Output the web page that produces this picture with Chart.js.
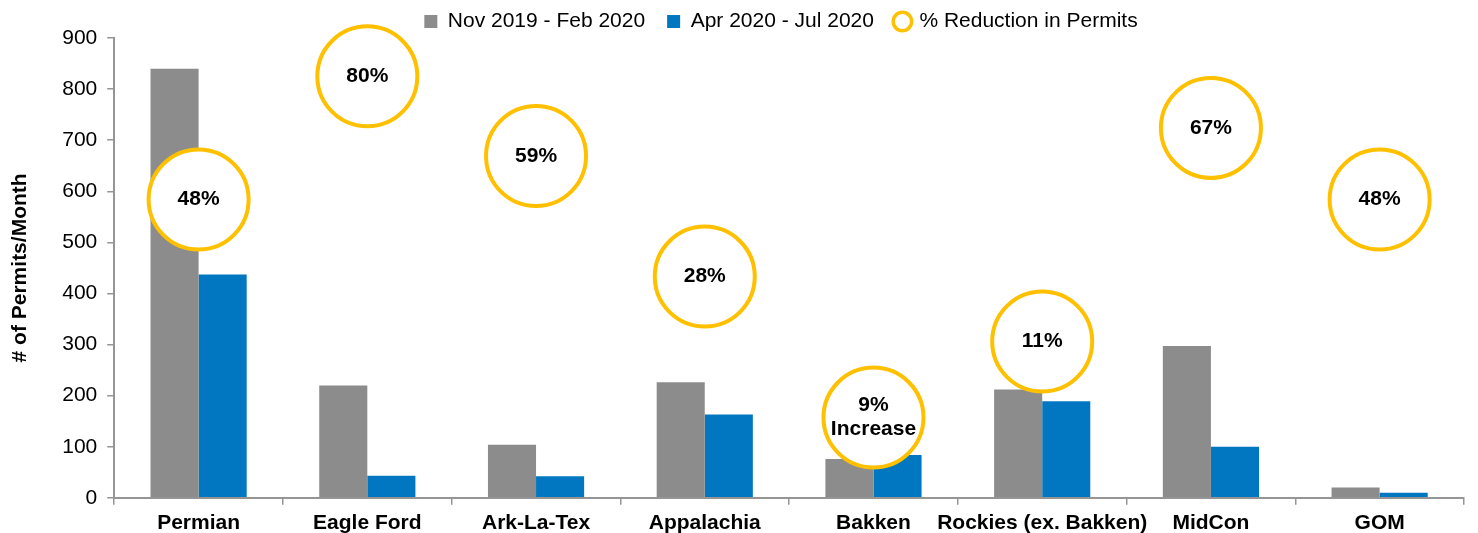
<!DOCTYPE html>
<html>
<head>
<meta charset="utf-8">
<script src="https://cdn.jsdelivr.net/npm/chart.js@4/dist/chart.umd.min.js"></script>
<style>
  html, body { margin: 0; padding: 0; background: #fff; overflow: hidden; }
  #wrap { width: 1478px; height: 533px; }
</style>
</head>
<body>
<div id="wrap"><canvas id="c" width="1478" height="533"></canvas></div>
<script>
const categories = ["Permian", "Eagle Ford", "Ark-La-Tex", "Appalachia", "Bakken", "Rockies (ex. Bakken)", "MidCon", "GOM"];
const preCovid = [840, 220, 104, 226, 76, 212, 297, 20];
const postCovid = [437, 43, 42, 163, 84, 189, 100, 10];
const bubbleY = [584, 825, 669, 433, 157, 306, 724, 584];
const bubbleLabels = [["48%"], ["80%"], ["59%"], ["28%"], ["9%", "Increase"], ["11%"], ["67%"], ["48%"]];
const seriesNames = ["Nov 2019 - Feb 2020", "Apr 2020 - Jul 2020", "% Reduction in Permits"];
const yTicks = { min: 0, max: 900, step: 100 };

const FONT = "'Liberation Sans', Arial, sans-serif";
const AXIS_GREY = "#959595";

const bubbleText = {
  id: "bubbleText",
  afterDatasetsDraw(chart) {
    const meta = chart.getDatasetMeta(2);
    const ctx = chart.ctx;
    ctx.save();
    ctx.font = "bold 21px " + FONT;
    ctx.fillStyle = "#000";
    ctx.textAlign = "center";
    ctx.textBaseline = "middle";
    meta.data.forEach((pt, i) => {
      const lines = bubbleLabels[i];
      const lh = 24;
      const start = pt.y - (lines.length - 1) * lh / 2;
      lines.forEach((t, j) => ctx.fillText(t, pt.x, start + j * lh));
    });
    ctx.restore();
  }
};

const legendTweak = {
  id: "legendTweak",
  beforeInit(chart) {
    const orig = chart.legend.fit;
    chart.legend.fit = function () {
      orig.call(this);
      this.height = 38;
    };
  },
  afterLayout(chart) {
    const lg = chart.legend;
    lg.left += 45;
    lg.right += 45;
    lg.top -= 11;
    lg.height += 30;
    lg.bottom = lg.top + lg.height;
  }
};

new Chart(document.getElementById("c"), {
  data: {
    labels: categories,
    datasets: [
      {
        type: "bar", label: seriesNames[0], data: preCovid,
        backgroundColor: "#8c8c8c", order: 2,
        categoryPercentage: 0.57, barPercentage: 1.0
      },
      {
        type: "bar", label: seriesNames[1], data: postCovid,
        backgroundColor: "#0077c0", order: 2,
        categoryPercentage: 0.57, barPercentage: 1.0
      },
      {
        type: "line", label: seriesNames[2], data: bubbleY,
        showLine: false, order: 0, clip: false,
        pointRadius: 50, pointHoverRadius: 50,
        pointBackgroundColor: "#ffffff", backgroundColor: "#ffffff",
        pointBorderColor: "#ffc000", borderColor: "#ffc000",
        pointBorderWidth: 4, borderWidth: 4
      }
    ]
  },
  options: {
    responsive: false,
    animation: false,
    events: [],
    layout: { autoPadding: false, padding: { left: 8, right: 14, top: 0, bottom: -9 } },
    plugins: {
      tooltip: { enabled: false },
      legend: {
        position: "top",
        labels: {
          color: "#000",
          font: { family: FONT, size: 21 },
          usePointStyle: true,
          boxWidth: 13, boxHeight: 13,
          padding: 22,
          generateLabels(chart) {
            return chart.data.datasets.map((ds, i) => ({
              text: ds.label,
              fillStyle: i === 2 ? "#ffffff" : ds.backgroundColor,
              strokeStyle: i === 2 ? "#ffc000" : ds.backgroundColor,
              lineWidth: i === 2 ? 3.5 : 0,
              pointStyle: i === 2 ? "circle" : "rect",
              fontColor: "#000",
              datasetIndex: i,
              hidden: false
            }));
          }
        }
      }
    },
    scales: {
      x: {
        offset: true,
        grid: { display: true, drawOnChartArea: false, drawTicks: true, offset: true, tickLength: 7, color: AXIS_GREY, lineWidth: 1.5 },
        border: { display: true, color: AXIS_GREY, width: 2 },
        ticks: { color: "#000", font: { family: FONT, size: 21, weight: "bold" }, maxRotation: 0, autoSkip: false, padding: 6 }
      },
      y: {
        min: yTicks.min, max: yTicks.max,
        grid: { display: true, drawOnChartArea: false, drawTicks: true, tickLength: 7, color: AXIS_GREY, lineWidth: 1.5 },
        border: { display: true, color: AXIS_GREY, width: 2 },
        ticks: { stepSize: yTicks.step, color: "#000", font: { family: FONT, size: 21 }, padding: 10 },
        title: { display: true, text: "# of Permits/Month", color: "#000", font: { family: FONT, size: 21, weight: "bold" }, padding: { top: 0, bottom: 19 } }
      }
    }
  },
  plugins: [bubbleText, legendTweak]
});
</script>
</body>
</html>
